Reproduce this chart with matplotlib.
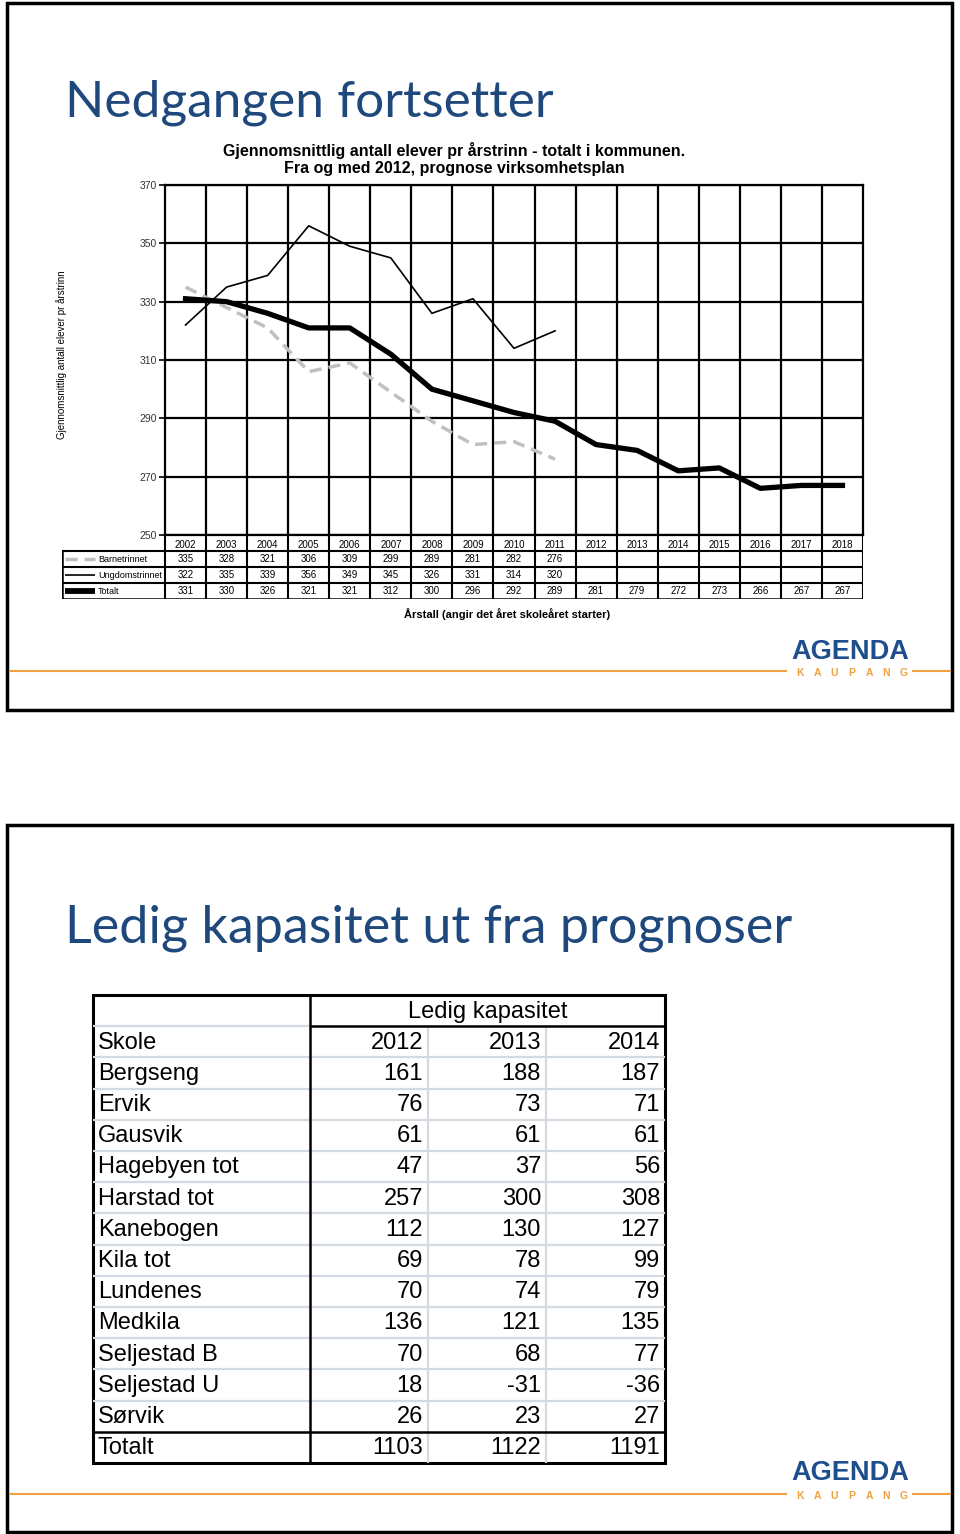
import matplotlib.pyplot as plt
import matplotlib.lines as mlines
from matplotlib.patches import Rectangle
import numpy as np

# data - top chart
years = [2002, 2003, 2004, 2005, 2006, 2007, 2008, 2009, 2010, 2011,
         2012, 2013, 2014, 2015, 2016, 2017, 2018]
barnetrinnet = [335, 328, 321, 306, 309, 299, 289, 281, 282, 276]
ungdomstrinnet = [322, 335, 339, 356, 349, 345, 326, 331, 314, 320]
totalt = [331, 330, 326, 321, 321, 312, 300, 296, 292, 289,
          281, 279, 272, 273, 266, 267, 267]

# data - bottom table
kap_years = [2012, 2013, 2014]
skoler = ['Bergseng', 'Ervik', 'Gausvik', 'Hagebyen tot', 'Harstad tot', 'Kanebogen',
          'Kila tot', 'Lundenes', 'Medkila', 'Seljestad B', 'Seljestad U', 'Sørvik']
kap_2012 = [161, 76, 61, 47, 257, 112, 69, 70, 136, 70, 18, 26]
kap_2013 = [188, 73, 61, 37, 300, 130, 78, 74, 121, 68, -31, 23]
kap_2014 = [187, 71, 61, 56, 308, 127, 99, 79, 135, 77, -36, 27]
totalt_kap = [1103, 1122, 1191]

W, H = 960, 1534
blue = '#1F497D'
orange = '#F0A040'
arial = ['Liberation Sans', 'DejaVu Sans']
narrow = ['Liberation Sans Narrow', 'Liberation Sans', 'DejaVu Sans']


def box(x0, y0, x1, y1):
    return [x0 / W, 1 - y1 / H, (x1 - x0) / W, (y1 - y0) / H]


def fx(x):
    return x / W


def fy(y):
    return 1 - y / H


fig = plt.figure(figsize=(9.6, 15.34), dpi=100)

# slide frames
for (x0, y0, x1, y1) in [(7, 3, 952, 710), (7, 825, 952, 1532)]:
    fig.patches.append(Rectangle((fx(x0), fy(y1)), (x1 - x0) / W, (y1 - y0) / H,
                                 transform=fig.transFigure, fill=False, lw=2.5, ec='black'))


def logo(y_agenda, y_line):
    fig.text(fx(850), fy(y_agenda), 'AGENDA', ha='center', va='center', fontsize=19.5,
             fontweight='bold', color='#1F4E8C', family=arial)
    for i, ch in enumerate('KAUPANG'):
        fig.text(fx(800 + i * 17.3), fy(y_line + 2), ch, ha='center', va='center', fontsize=7.5,
                 fontweight='bold', color=orange, family=arial)
    fig.add_artist(mlines.Line2D([fx(10), fx(786)], [fy(y_line)] * 2, color=orange, lw=1.5))
    fig.add_artist(mlines.Line2D([fx(913), fx(950)], [fy(y_line)] * 2, color=orange, lw=1.5))


# ---------------- top slide ----------------
fig.text(fx(65), fy(103), 'Nedgangen fortsetter', fontsize=37, color=blue,
         va='center', ha='left', family=['Lato', 'DejaVu Sans'])

fig.text(fx(454), fy(159),
         'Gjennomsnittlig antall elever pr årstrinn - totalt i kommunen.\nFra og med 2012, prognose virksomhetsplan',
         ha='center', va='center', fontsize=11.5, fontweight='bold', linespacing=1.1, family=narrow)

fig.text(fx(62), fy(355), 'Gjennomsnittlig antall elever pr årstrinn', rotation=90,
         fontsize=7, ha='center', va='center', family=narrow)

ax = fig.add_axes(box(165, 185, 863, 535))
x = np.arange(len(years))
ax.plot(x[:len(barnetrinnet)], barnetrinnet, color='#C0C0C0', lw=2.5, ls=(0, (3.5, 2)))
ax.plot(x[:len(ungdomstrinnet)], ungdomstrinnet, color='black', lw=1.2)
ax.plot(x, totalt, color='black', lw=3.8)
ax.set_xlim(-0.5, len(years) - 0.5)
ax.set_ylim(250, 370)
ax.set_yticks(range(250, 371, 20))
ax.set_xticks(np.arange(0.5, len(years) - 0.5, 1))
ax.tick_params(axis='x', length=0, labelbottom=False)
ax.tick_params(axis='y', length=4, width=1.2, labelsize=7.5, labelcolor='#333333', pad=2)
for lab in ax.get_yticklabels():
    lab.set_family(arial)
ax.grid(True, color='black', lw=1.6)
ax.set_axisbelow(True)
for s in ax.spines.values():
    s.set_linewidth(1.6)

# data table below chart
colw = 698 / len(years)
left = -0.5 - (165 - 62) / colw
tax = fig.add_axes(box(62, 535, 863, 599))
tax.set_xlim(left, len(years) - 0.5)
tax.set_ylim(4, 0)
tax.axis('off')
tax.vlines(np.arange(-0.5, len(years), 1), 0, 4, color='black', lw=1.5)
tax.vlines([left], 1, 4, color='black', lw=1.8)
tax.hlines([1, 2, 3], left, len(years) - 0.5, color='black', lw=1.5)
tax.hlines([4], left, len(years) - 0.5, color='black', lw=1.8)
for i, yr in enumerate(years):
    tax.text(i, 0.6, str(yr), ha='center', va='center', fontsize=7, family=arial)

series = [('Barnetrinnet', barnetrinnet, dict(color='#C0C0C0', lw=2.5, ls=(0, (3.5, 2)))),
          ('Ungdomstrinnet', ungdomstrinnet, dict(color='black', lw=1.2)),
          ('Totalt', totalt, dict(color='black', lw=4.2))]
for r, (name, vals, style) in enumerate(series):
    yy = r + 1.5
    tax.plot([left + 0.07, left + 0.8], [yy, yy], clip_on=False, solid_capstyle='butt',
             dash_capstyle='butt', **style)
    tax.text(left + 0.88, yy, name, ha='left', va='center', fontsize=6.5, family=narrow)
    for i, v in enumerate(vals):
        tax.text(i, yy, str(v), ha='center', va='center', fontsize=7, family=arial)

fig.text(fx(507), fy(614), 'Årstall (angir det året skoleåret starter)', ha='center', va='center',
         fontsize=8, fontweight='bold', family=narrow)

logo(652, 671)

# ---------------- bottom slide ----------------
fig.text(fx(65), fy(928), 'Ledig kapasitet ut fra prognoser', fontsize=37.5, color=blue,
         va='center', ha='left', family=['Lato', 'DejaVu Sans'])

col_w = [217, 118, 118, 119]
edges = np.cumsum([0] + col_w)
labels = ['Skole'] + skoler + ['Totalt']
rows = [kap_years] + [list(t) for t in zip(kap_2012, kap_2013, kap_2014)] + [totalt_kap]
nrows = len(labels) + 1

bax = fig.add_axes(box(93, 995, 665, 1463))
bax.set_xlim(0, edges[-1])
bax.set_ylim(nrows, 0)
bax.axis('off')

gray = '#D3DAE2'
bax.hlines(np.arange(2, nrows - 1), 0, edges[-1], color=gray, lw=1.6)
bax.hlines([1], 0, edges[1], color=gray, lw=1.6)
bax.vlines(edges[2:4], 1, nrows, color=gray, lw=1.6)
bax.hlines([1], edges[1], edges[-1], color='black', lw=1.8)
bax.hlines([nrows - 1], 0, edges[-1], color='black', lw=1.8)
bax.vlines([edges[1]], 0, nrows, color='black', lw=1.8)
bax.add_patch(Rectangle((0, 0), edges[-1], nrows, fill=False, ec='black', lw=2.2, clip_on=False))

bax.text((edges[1] + edges[-1]) / 2, 0.74, 'Ledig kapasitet', ha='center', va='baseline',
         fontsize=17, family=arial)
for r, (lab, vals) in enumerate(zip(labels, rows)):
    yy = r + 1 + 0.72
    bax.text(edges[0] + 5, yy, lab, ha='left', va='baseline', fontsize=17, family=arial)
    for c, v in enumerate(vals):
        bax.text(edges[c + 2] - 5, yy, str(v), ha='right', va='baseline', fontsize=17, family=arial)

logo(1473, 1494)

fig.savefig('out.png', dpi=100)
